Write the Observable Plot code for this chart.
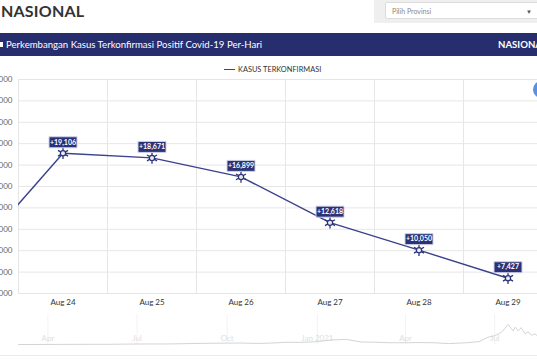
<!DOCTYPE html>
<html><head><meta charset="utf-8">
<script src="https://cdn.jsdelivr.net/npm/d3@7"></script>
<script src="https://cdn.jsdelivr.net/npm/@observablehq/plot@0.6"></script>
<style>
body{margin:0;width:537px;height:360px;overflow:hidden;background:#fff;font-family:Lato,"Open Sans",sans-serif;position:relative}
#title{position:absolute;left:1px;top:1px;font-size:16px;font-weight:bold;color:#333;line-height:20px;letter-spacing:0.2px}
#panel{position:absolute;left:374px;top:0;width:170px;height:23px;background:#efefef}
#select{position:absolute;left:11px;top:2px;width:160px;height:17px;background:#fff;border:1px solid #dcdcdc;border-radius:2px;font-size:7px;color:#888;line-height:17px;padding-left:6px;box-sizing:border-box}
#select span{position:absolute;left:140px;top:0;color:#555;font-size:6px}
#banner{position:absolute;left:0;top:33px;width:537px;height:23px;background:#262e6d;color:#fff;font-size:9.6px;line-height:23px;white-space:nowrap;overflow:hidden}
#banner .t{position:absolute;left:6px}
#banner .icon{position:absolute;left:0;top:9px;width:3px;height:5px;background:#fff}
#banner b{position:absolute;left:498px;font-size:9.6px}
#legend{position:absolute;left:224px;top:64px;font-size:7.4px;color:#333;line-height:12px;white-space:nowrap}
#legend .sw{display:inline-block;width:11px;height:1.6px;background:#3a428c;vertical-align:middle;margin-right:3px;margin-top:-1px}
#chart{position:absolute;left:-60px;top:60px;width:620px;height:260px}
#nav{position:absolute;left:0;top:305px;width:537px;height:50px}
#chart svg,#nav svg{max-width:none !important;display:block}
#btn{position:absolute;left:533px;top:81px;width:17px;height:17px;border-radius:50%;background:#5b8fe6}
#sep{position:absolute;left:0;top:355px;width:537px;height:1px;background:#ebebeb}
svg text{font-family:Lato,"Open Sans",sans-serif}
</style></head><body>
<div id="title">NASIONAL</div>
<div id="panel"><div id="select">Pilih Provinsi<span>&#9660;</span></div></div>
<div id="banner"><span class="icon"></span><span class="t">Perkembangan Kasus Terkonfirmasi Positif Covid-19 Per-Hari</span><b>NASIONAL</b></div>
<div id="legend"><span class="sw"></span>KASUS TERKONFIRMASI</div>
<div id="chart"></div>
<div id="nav"></div>
<div id="btn"></div>
<div id="sep"></div>
<script>
// Daily confirmed cases (main chart)
const dayLabels = ["2021-08-23","2021-08-24","2021-08-25","2021-08-26","2021-08-27","2021-08-28","2021-08-29"];
const dailyCases = [9604, 19106, 18671, 16899, 12618, 10050, 7427];
const yTicks = [6000, 8000, 10000, 12000, 14000, 16000, 18000, 20000, 22000, 24000, 26000];

// Navigator series (estimated)
const navDates = ["2020-03-02","2020-03-15","2020-04-01","2020-04-15","2020-05-01","2020-05-15","2020-06-01","2020-06-15","2020-07-01","2020-07-15","2020-08-01","2020-08-15","2020-09-01","2020-09-15","2020-10-01","2020-10-15","2020-11-01","2020-11-15","2020-11-29","2020-12-15","2021-01-01","2021-01-15","2021-01-30","2021-02-15","2021-03-01","2021-03-15","2021-04-01","2021-04-15","2021-05-01","2021-05-15","2021-06-01","2021-06-15","2021-06-24","2021-07-01","2021-07-06","2021-07-09","2021-07-15","2021-07-18","2021-07-20","2021-07-22","2021-07-25","2021-07-28","2021-08-01","2021-08-04","2021-08-08","2021-08-11","2021-08-15","2021-08-18","2021-08-20","2021-08-23","2021-08-24","2021-08-26","2021-08-29"];
const navCases = [2,20,150,300,400,500,500,1000,1400,1500,1500,2200,3000,3500,4000,4200,3000,4000,6200,6000,8000,12800,14500,7000,6500,5000,5000,5500,4800,2600,4800,8100,20500,24800,31200,38100,56757,44700,38300,49500,38700,47800,30700,35800,26000,30600,20800,20700,16700,9600,19106,16899,7427];
const navTickDates = ["2020-04-01","2020-07-01","2020-10-01","2021-01-01","2021-04-01","2021-07-01"];
const navTickLabels = ["Apr","Jul","Oct","Jan 2021","Apr","Jul"];

const navy = "#3a428c";
const data = dayLabels.map((d, i) => ({date: new Date(d + "T00:00:00Z"), v: dailyCases[i]}));
const gridDates = data.map(d => d3.utcHour.offset(d.date, 12));
const xDomain = [gridDates[0], gridDates[gridDates.length - 1]];
const labelBox = {draw(ctx) { ctx.rect(-14, -5.5, 28, 11); }};

const chart = Plot.plot({
  width: 620, height: 260,
  marginLeft: 78, marginRight: 8, marginTop: 19, marginBottom: 27,
  x: {type: "utc", domain: xDomain},
  y: {domain: [6000, 26000]},
  style: {fontFamily: "Lato, 'Open Sans', sans-serif", background: "transparent"},
  marks: [
    Plot.ruleY(yTicks, {stroke: "#e6e6e6", strokeOpacity: 1}),
    Plot.ruleX(gridDates, {stroke: "#e6e6e6", strokeOpacity: 1}),
    Plot.axisY({ticks: yTicks, tickSize: 0, tickPadding: 6, tickFormat: d3.format(","), fontSize: 8, fill: "#666"}),
    Plot.axisX({ticks: data.slice(1).map(d => d.date), tickSize: 0, tickPadding: 6, tickFormat: d3.utcFormat("%b %d"), fontSize: 8, fill: "#333"}),
    Plot.line(data, {x: "date", y: "v", stroke: navy, strokeWidth: 1.4, clip: true}),
    Plot.dot(data, {x: "date", y: "v", symbol: "asterisk", r: 5.5, stroke: "#2b3277", strokeWidth: 1.3, clip: true}),
    Plot.dot(data, {x: "date", y: "v", r: 2.6, fill: "#e9eaf3", stroke: "#2b3277", strokeWidth: 1.2, clip: true}),
    Plot.dot(data, {x: "date", y: "v", symbol: labelBox, fill: "#2b3277", stroke: "#cfd2e6", strokeWidth: 1, dy: -11, clip: true}),
    Plot.text(data, {x: "date", y: "v", text: d => "+" + d3.format(",")(d.v), fill: "#fff", fontSize: 7, fontWeight: "bold", dy: -11, clip: true})
  ]
});
document.getElementById("chart").appendChild(chart);

const navData = navDates.map((d, i) => ({date: new Date(d + "T00:00:00Z"), v: navCases[i]}));
const navTicks = navTickDates.map(d => new Date(d + "T00:00:00Z"));
const nav = Plot.plot({
  width: 537, height: 50,
  marginLeft: 0, marginRight: 0, marginTop: 0, marginBottom: 0,
  x: {type: "utc", domain: [navData[0].date, navData[navData.length - 1].date], range: [18, 552], axis: null},
  y: {domain: [0, 85000], range: [39, 9], axis: null},
  style: {fontFamily: "Lato, 'Open Sans', sans-serif", background: "transparent"},
  marks: [
    Plot.ruleX(navTicks, {x: d => d, y1: 0, y2: 85000, stroke: "#f3f3f3", strokeOpacity: 1}),
    Plot.text(navTicks, {x: d => d, text: (d, i) => navTickLabels[i], frameAnchor: "top", dy: 30, fontSize: 8, fill: "#e0e0e0"}),
    Plot.line(navData, {x: "date", y: "v", stroke: "#d4d4d4", strokeWidth: 1, clip: true})
  ]
});
document.getElementById("nav").appendChild(nav);
</script>
</body></html>
